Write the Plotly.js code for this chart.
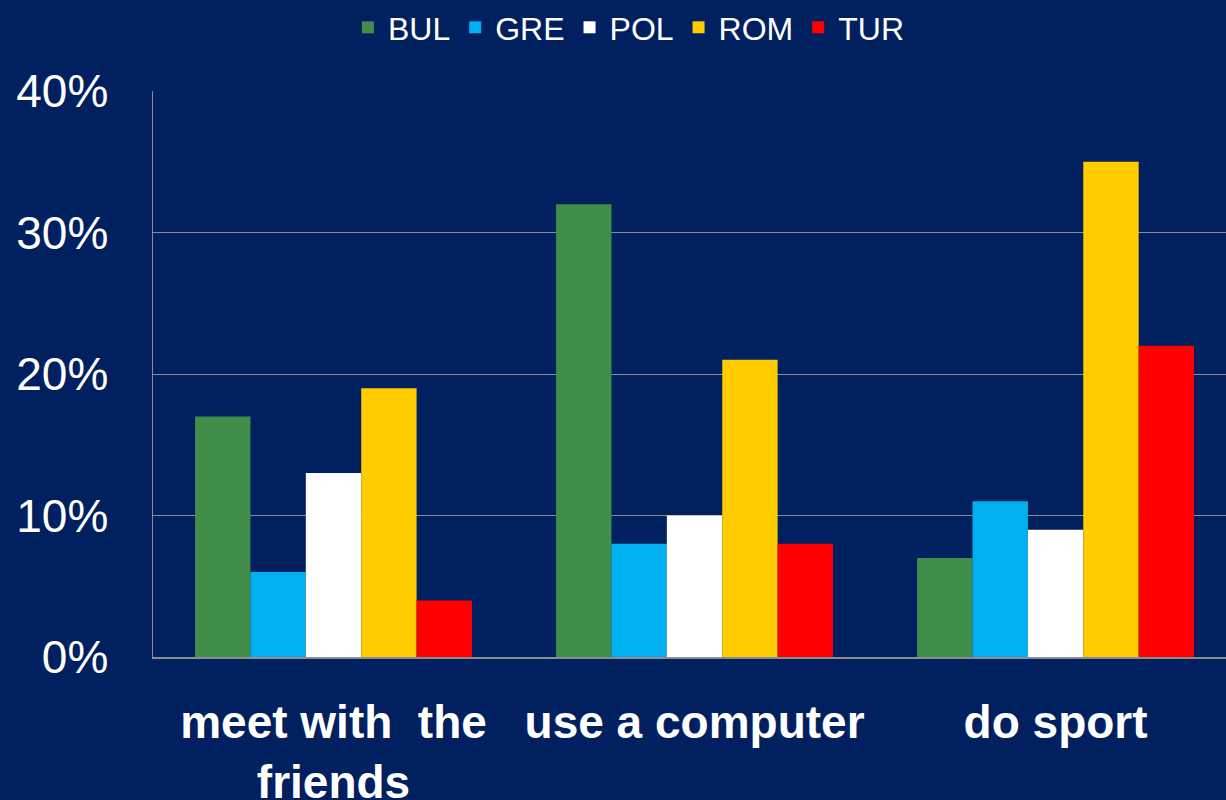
<!DOCTYPE html>
<html>
<head>
<meta charset="utf-8">
<script src="https://cdn.plot.ly/plotly-3.0.1.min.js"></script>
<style>
html,body{margin:0;padding:0;background:#00205F;}
#chart{width:1226px;height:800px;}
</style>
</head>
<body>
<div id="chart"></div>
<script>
const categories = ["meet with  the<br>friends", "use a computer", "do sport"];
const seriesNames = ["BUL", "GRE", "POL", "ROM", "TUR"];
const BUL = [17, 32, 7];
const GRE = [6, 8, 11];
const POL = [13, 10, 9];
const ROM = [19, 21, 35];
const TUR = [4, 8, 22];
const seriesColors = ["#418E4B", "#00B0F0", "#FFFFFF", "#FFCC00", "#FF0000"];
const seriesValues = [BUL, GRE, POL, ROM, TUR];

const traces = seriesNames.map((name, i) => ({
  type: "bar",
  name: name,
  x: categories,
  y: seriesValues[i],
  marker: {color: seriesColors[i], line: {width: 0}},
  hoverinfo: "x+y+name"
}));

const layout = {
  width: 1226,
  height: 800,
  paper_bgcolor: "#00205F",
  plot_bgcolor: "#00205F",
  font: {family: "Liberation Sans, Arial, sans-serif", color: "#FFFFFF"},
  margin: {l: 153, r: 0, t: 91, b: 143, pad: 0},
  barmode: "group",
  bargap: 0.233,
  bargroupgap: 0,
  showlegend: true,
  legend: {
    orientation: "h",
    xref: "container", yref: "container",
    x: 0.513, xanchor: "center",
    y: 1.0, yanchor: "top",
    font: {size: 32, color: "#FFFFFF"},
    bgcolor: "rgba(0,0,0,0)",
    itemwidth: 30,
    traceorder: "normal"
  },
  xaxis: {
    type: "category",
    range: [-0.5, 2.472],
    showgrid: false,
    zeroline: false,
    showline: true,
    linecolor: "#8C8C8C",
    linewidth: 1.5,
    ticks: "",
    tickfont: {size: 46, color: "#FFFFFF", family: "Liberation Sans, Arial, sans-serif", weight: "bold"},
    ticklabelstandoff: 24,
    fixedrange: true
  },
  yaxis: {
    range: [0, 40],
    dtick: 10,
    tick0: 0,
    ticksuffix: "%",
    showgrid: true,
    gridcolor: "#8C8C8C",
    gridwidth: 1,
    zeroline: false,
    showline: true,
    linecolor: "#8C8C8C",
    linewidth: 1.5,
    ticks: "",
    tickfont: {size: 46, color: "#FFFFFF"},
    ticklabelstandoff: 34,
    fixedrange: true
  }
};

Plotly.newPlot("chart", traces, layout, {displayModeBar: false, staticPlot: true});
</script>
</body>
</html>
